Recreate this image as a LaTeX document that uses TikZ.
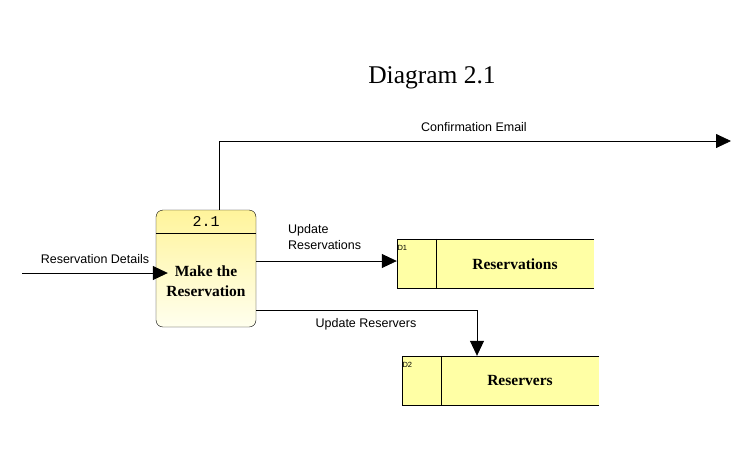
\documentclass[tikz,border=0pt]{standalone}
\usepackage{fontspec}
\setmainfont{Liberation Serif}
\setsansfont{Liberation Sans}
\setmonofont{Liberation Mono}
\usetikzlibrary{arrows.meta}
\usetikzlibrary{positioning}
\definecolor{storefill}{RGB}{255,255,165}
\definecolor{proctop}{RGB}{255,244,155}
\definecolor{procbot}{RGB}{255,255,238}

\begin{document}
\begin{tikzpicture}[x=1pt, y=-1pt,
		proc/.style={rectangle, draw, rounded corners=7pt, minimum width=100pt, minimum height=117pt, top color=proctop, bottom color=procbot, inner sep=0pt},
		store/.style={rectangle, fill=storefill, minimum width=197pt, minimum height=49pt, inner sep=0pt},
		stname/.style={font=\fontsize{15.5}{18}\selectfont\bfseries},
		stid/.style={font=\sffamily\fontsize{7.5}{8}\selectfont, inner sep=0pt, anchor=north west},
		flowlabel/.style={font=\sffamily\fontsize{12.5}{16}\selectfont, align=left},
		flow/.style={thick, -{Triangle[length=15pt, width=14pt]}}
	]
	\useasboundingbox (0,0) rectangle (755,459);

	\node[font=\fontsize{25.5}{30}\selectfont] (title) at (432,78) {Diagram 2.1};

	% process
	\node[proc] (p) at (206,268.5) {};
	\draw ([yshift=-23pt]p.north west) -- ([yshift=-23pt]p.north east);
	\node[font=\ttfamily\fontsize{15}{18}\selectfont] (pid) at (206,221) {2.1};
	\node[font=\fontsize{15.5}{20}\selectfont\bfseries, align=center] (pname) at (206,281) {Make the\\Reservation};

	% data stores
	\node[store] (d1) at (495.5,263.5) {};
	\draw (d1.north east) -- (d1.north west) -- (d1.south west) -- (d1.south east);
	\draw ([xshift=39pt]d1.north west) -- ([xshift=39pt]d1.south west);
	\node[stid] (d1id) at ([xshift=0.5pt, yshift=-6pt]d1.north west) {D1};
	\node[stname] (d1name) at (515,264) {Reservations};

	\node[store] (d2) at (500.5,380.5) {};
	\draw (d2.north east) -- (d2.north west) -- (d2.south west) -- (d2.south east);
	\draw ([xshift=39pt]d2.north west) -- ([xshift=39pt]d2.south west);
	\node[stid] (d2id) at ([xshift=0.5pt, yshift=-6pt]d2.north west) {D2};
	\node[stname] (d2name) at (520,380) {Reservers};

	% flows
	\coordinate (src) at (22,273);
	\coordinate (cout) at (731,141);
	\draw[flow] (src) -- ([xshift=12pt]src -| p.west);
	\draw[flow] ([xshift=13pt]p.north) |- (cout);
	\draw[flow] ([yshift=2.5pt]d1.west -| p.east) -- ([yshift=2.5pt]d1.west);
	\draw[flow] ([yshift=-41.5pt]p.east) -| ([xshift=-23.5pt]d2.north);

	\node[flowlabel] (l1) at (95,259) {Reservation Details};
	\node[flowlabel] (l2) at (474,127) {Confirmation Email};
	\node[flowlabel, anchor=west, inner sep=0pt] (l3) at (288,237.5) {Update\\Reservations};
	\node[flowlabel] (l4) at (366,324) {Update Reservers};
\end{tikzpicture}
\end{document}
